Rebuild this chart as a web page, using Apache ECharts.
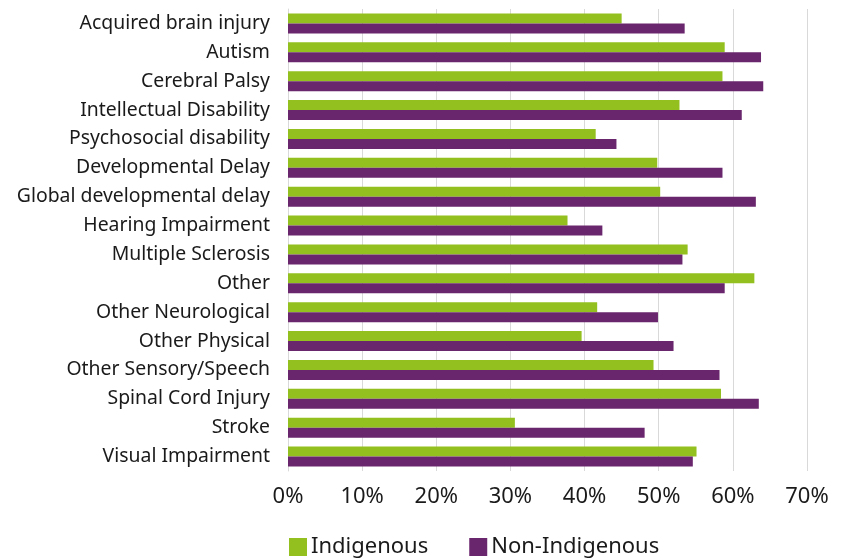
<!DOCTYPE html>
<html>
<head>
<meta charset="utf-8">
<script src="https://cdn.jsdelivr.net/npm/echarts@6/dist/echarts.min.js"></script>
<style>
  html, body { margin: 0; padding: 0; background: #ffffff; }
  #chart { width: 848px; height: 560px; }
</style>
</head>
<body>
<div id="chart"></div>
<script>
const categories = [
  "Acquired brain injury", "Autism", "Cerebral Palsy", "Intellectual Disability",
  "Psychosocial disability", "Developmental Delay", "Global developmental delay",
  "Hearing Impairment", "Multiple Sclerosis", "Other", "Other Neurological",
  "Other Physical", "Other Sensory/Speech", "Spinal Cord Injury", "Stroke",
  "Visual Impairment"
];
const indigenous = [45.0, 58.9, 58.6, 52.8, 41.5, 49.8, 50.2, 37.7, 53.9, 62.9, 41.7, 39.6, 49.3, 58.4, 30.6, 55.1];
const nonIndigenous = [53.5, 63.8, 64.1, 61.2, 44.3, 58.6, 63.1, 42.4, 53.2, 58.9, 49.9, 52.0, 58.2, 63.5, 48.1, 54.6];
const seriesNames = ["Indigenous", "Non-Indigenous"];

const chart = echarts.init(document.getElementById('chart'), null, { renderer: 'canvas' });
const font = '"Noto Sans", sans-serif';
chart.setOption({
  animation: false,
  backgroundColor: '#ffffff',
  color: ['#93C01F', '#6A266D'],
  grid: { left: 288, right: 41, top: 9, bottom: 89, containLabel: false },
  legend: {
    data: seriesNames,
    left: 289,
    top: 536,
    padding: 0,
    itemWidth: 18,
    itemHeight: 18,
    itemGap: 41,
    icon: 'rect',
    textStyle: { fontFamily: font, fontSize: 22, color: '#1a1a1a', padding: [0, 0, 0, -1] }
  },
  xAxis: {
    type: 'value',
    min: 0,
    max: 70,
    interval: 10,
    axisLine: { show: false },
    axisTick: { show: false },
    splitLine: { show: true, lineStyle: { color: '#d9d9d9', width: 1 } },
    axisLabel: {
      formatter: '{value}%',
      fontFamily: font,
      fontSize: 22,
      lineHeight: 22,
      color: '#1a1a1a',
      margin: 15
    }
  },
  yAxis: {
    type: 'category',
    data: categories,
    inverse: true,
    axisLine: { show: true, lineStyle: { color: '#d9d9d9', width: 1 } },
    axisTick: { show: false },
    axisLabel: {
      fontFamily: font,
      fontSize: 19.4,
      color: '#1a1a1a',
      margin: 18
    }
  },
  series: [
    {
      name: seriesNames[0],
      type: 'bar',
      data: indigenous,
      barGap: '0%',
      barCategoryGap: '31%'
    },
    {
      name: seriesNames[1],
      type: 'bar',
      data: nonIndigenous,
      barGap: '0%',
      barCategoryGap: '31%'
    }
  ]
});
</script>
</body>
</html>
